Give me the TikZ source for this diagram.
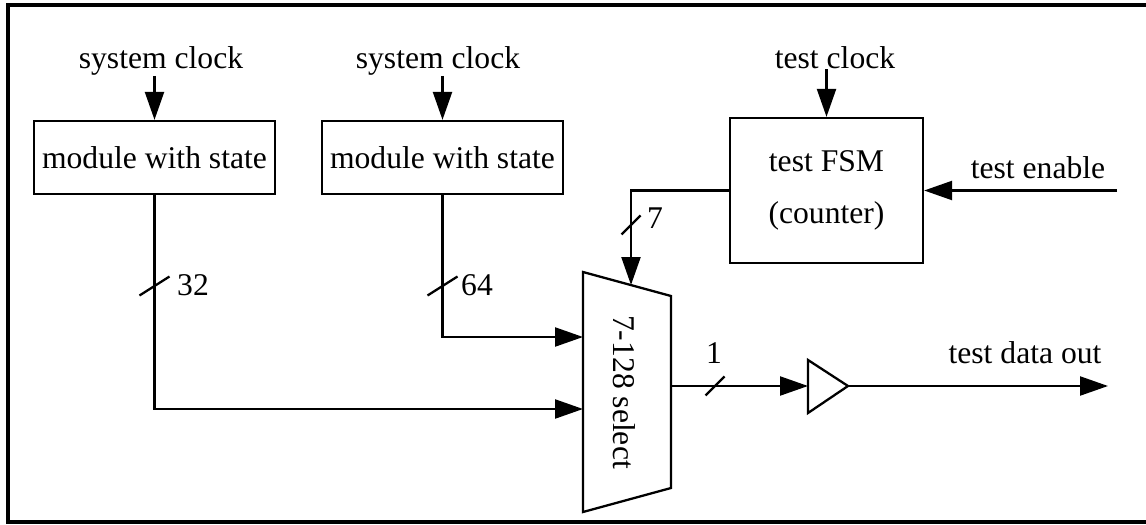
\documentclass[tikz,border=0pt]{standalone}
\usepackage{fontspec}
\setmainfont{Liberation Serif}
\usetikzlibrary{arrows.meta}

\begin{document}
\begin{tikzpicture}[x=0.02cm,y=-0.02cm,->,>={Triangle[length=0.56cm,width=0.38cm]},
                    line width=1.3pt,font=\fontsize{18}{30}\selectfont]
      \tikzstyle{every node}=[inner sep=0pt]
      \tikzstyle{module}=[draw,rectangle,minimum width=4.82cm,minimum height=1.46cm]
      \tikzstyle{lbl}=[anchor=base]

      \useasboundingbox (0,0) rectangle (1146,524);
      \draw[-,line width=1.8pt] (1146,5) -- (8,5) -- (8,522) -- (1146,522);

      % blocks
      \node[module] (mod1) at (154.5,157.5) {module with state};
      \node[module] (mod2) at (442.5,157.5) {module with state};
      \node[draw,minimum width=3.86cm,minimum height=2.9cm,align=center]
            (fsm) at (826.5,190.5) {test FSM\\(counter)};

      % mux and output buffer
      \draw (583,272) -- (671,296) -- (671,488) -- (583,512) -- cycle;
      \node[rotate=-90] (mux) at (624,392) {7-128 select};
      \coordinate (in64)   at (583,337);
      \coordinate (in32)   at (583,409);
      \coordinate (sel)    at (631,285);
      \coordinate (muxout) at (671,386);
      \draw (808,360) -- (848,386) -- (808,413) -- cycle;
      \coordinate (bufin)  at (808,386);
      \coordinate (bufout) at (848,386);

      % inputs and outputs
      \node[lbl] (clk1) at (161,68)  {system clock};
      \node[lbl] (clk2) at (438,68)  {system clock};
      \node[lbl] (clk3) at (835,68)  {test clock};
      \node[lbl] (en)   at (1038,178) {test enable};
      \node[lbl] (tdo)  at (1025,363) {test data out};
      \coordinate (enin)  at (1117,190.5);
      \coordinate (dout)  at (1108,386);

      \path (mod1.north |- clk1.south) edge (mod1.north)
            (mod2.north |- clk2.south) edge (mod2.north)
            (fsm.north |- clk3.south)  edge (fsm.north)
            (enin)   edge (fsm.east)
            (muxout) edge (bufin)
            (bufout) edge (dout);
      \draw (mod1.south) |- (in32);
      \draw (mod2.south) |- (in64);
      \draw (fsm.west) -| (sel);

      % bus widths
      \draw[-] (154.5,286) +(-15,9.5) -- +(15,-9.5);
      \draw[-] (442.5,286) +(-15,9.5) -- +(15,-9.5);
      \draw[-] (631,225)   +(-9.5,9.5) -- +(9.5,-9.5);
      \draw[-] (715,386)   +(-9.5,9.5) -- +(9.5,-9.5);
      \node[lbl] (w32) at (193,295) {32};
      \node[lbl] (w64) at (477,295) {64};
      \node[lbl] (w7)  at (655,228) {7};
      \node[lbl] (w1)  at (714,363) {1};

\end{tikzpicture}
\end{document}
